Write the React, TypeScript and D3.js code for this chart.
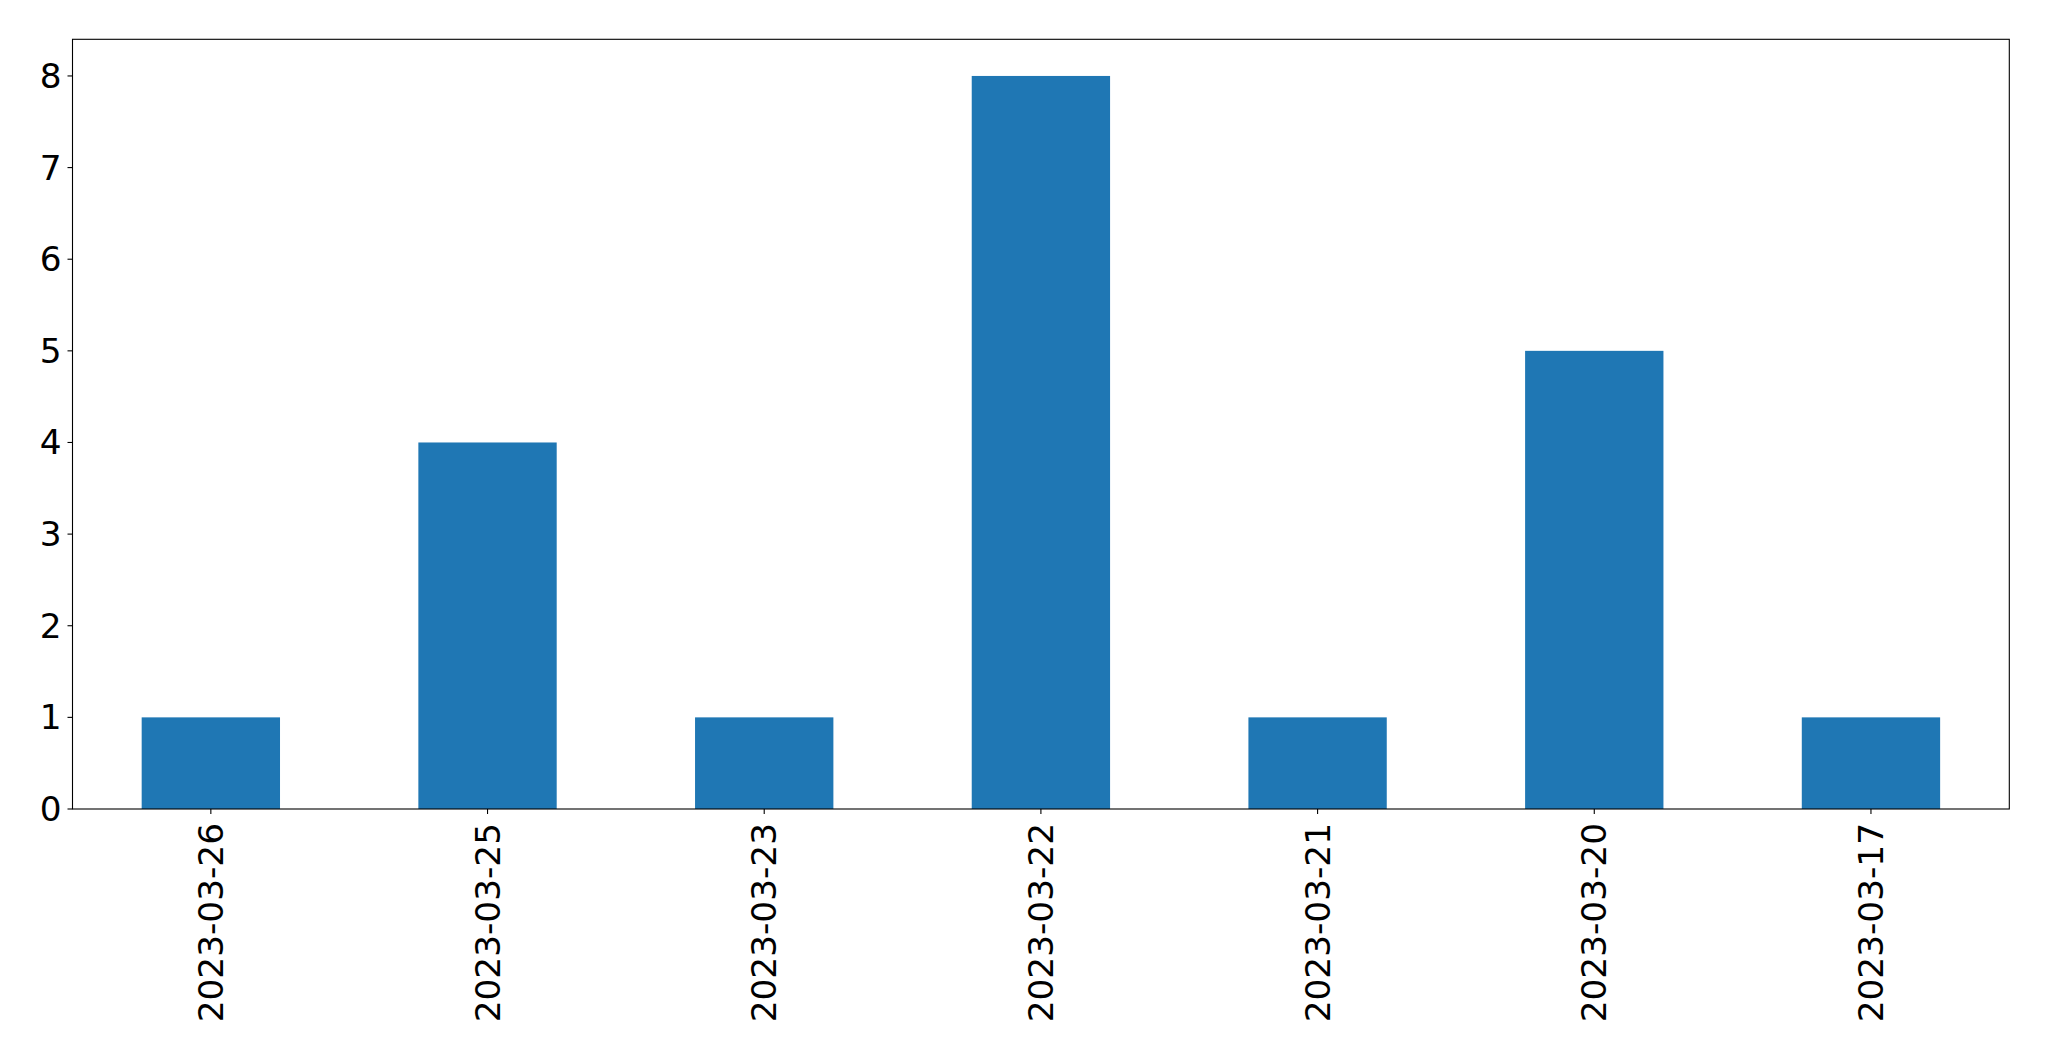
import React from "react";
import * as d3 from "d3";

const categories = ["2023-03-26", "2023-03-25", "2023-03-23", "2023-03-22", "2023-03-21", "2023-03-20", "2023-03-17"];
const values = [1, 4, 1, 8, 1, 5, 1];
const yTicks = [0, 1, 2, 3, 4, 5, 6, 7, 8];

const W = 2049;
const H = 1061;
const left = 72.5;
const right = 2009.3;
const top = 39.3;
const bottom = 809;
const font = "'DejaVu Sans', sans-serif";

export default function App() {
  const x = d3.scaleBand().domain(categories).range([left, right]).paddingInner(0.5).paddingOuter(0.25);
  const y = d3.scaleLinear().domain([0, 8.4]).range([bottom, top]);
  return (
    <svg width={W} height={H} style={{ position: "absolute", left: 0, top: 0, background: "#fff" }}>
      <rect x={0} y={0} width={W} height={H} fill="#fff" />
      {categories.map((c, i) => (
        <rect key={c} x={x(c)} y={y(values[i])} width={x.bandwidth()} height={y(0) - y(values[i])} fill="#1f77b4" />
      ))}
      <rect x={left} y={top} width={right - left} height={bottom - top} fill="none" stroke="#000" strokeWidth={1.1} />
      {yTicks.map((t) => (
        <g key={t}>
          <line x1={left - 5} x2={left} y1={y(t)} y2={y(t)} stroke="#000" strokeWidth={1.1} />
          <text x={left - 11} y={y(t)} textAnchor="end" dominantBaseline="central" fontFamily={font} fontSize={34.3} fill="#000">
            {t}
          </text>
        </g>
      ))}
      {categories.map((c) => {
        const cx = (x(c) as number) + x.bandwidth() / 2;
        return (
          <g key={c}>
            <line x1={cx} x2={cx} y1={bottom} y2={bottom + 5} stroke="#000" strokeWidth={1.1} />
            <text
              transform={`translate(${cx},${bottom + 14}) rotate(-90)`}
              textAnchor="end"
              dominantBaseline="central"
              fontFamily={font}
              fontSize={34.3}
              fill="#000"
            >
              {c}
            </text>
          </g>
        );
      })}
    </svg>
  );
}
